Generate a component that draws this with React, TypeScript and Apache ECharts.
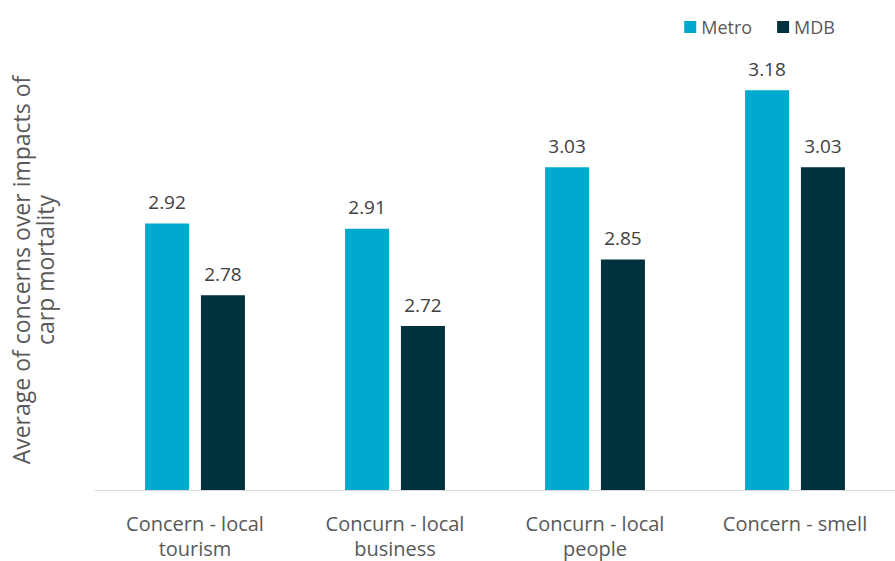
import React, { useEffect, useRef } from "react";
import * as echarts from "echarts";

const categories = [
  "Concern - local\ntourism",
  "Concurn - local\nbusiness",
  "Concurn - local\npeople",
  "Concern - smell",
];
const metroValues = [2.92, 2.91, 3.03, 3.18];
const mdbValues = [2.78, 2.72, 2.85, 3.03];
const seriesNames = ["Metro", "MDB"];
const yTitle = "Average of concerns over impacts of\ncarp mortality";

export default function App() {
  const ref = useRef<HTMLDivElement>(null);
  useEffect(() => {
    document.body.style.margin = "0";
    if (!ref.current) return;
    const chart = echarts.init(ref.current, undefined, { renderer: "svg" });
    const font = "'Open Sans', 'Noto Sans', sans-serif";
    const labelCfg = {
      show: true,
      position: "top",
      distance: 12,
      fontSize: 19,
      color: "#404040",
      fontFamily: font,
      formatter: (p: any) => p.value.toFixed(2),
    };
    chart.setOption({
      animation: false,
      textStyle: { fontFamily: font },
      legend: {
        data: seriesNames,
        right: 55,
        top: 13,
        itemWidth: 12,
        itemHeight: 12,
        itemGap: 25,
        icon: "rect",
        textStyle: { fontSize: 18, color: "#595959", fontFamily: font },
      },
      grid: { left: 95, right: 0, top: 80, bottom: 71, outerBoundsMode: "none", containLabel: false },
      graphic: [
        {
          type: "text",
          x: 33,
          y: 270,
          rotation: Math.PI / 2,
          style: {
            text: yTitle,
            align: "center",
            verticalAlign: "middle",
            fontSize: 23,
            lineHeight: 24,
            fill: "#595959",
            fontFamily: font,
          },
        },
      ],
      xAxis: {
        type: "category",
        data: categories,
        axisLine: { lineStyle: { color: "#d9d9d9", width: 1 } },
        axisTick: { show: false },
        axisLabel: {
          fontSize: 20,
          color: "#595959",
          lineHeight: 25,
          margin: 21,
          fontFamily: font,
        },
      },
      yAxis: {
        type: "value",
        min: 2.4,
        max: 3.2,
        axisLine: { show: false },
        axisTick: { show: false },
        axisLabel: { show: false },
        splitLine: { show: false },
      },
      series: [
        {
          name: seriesNames[0],
          type: "bar",
          data: metroValues,
          barWidth: 44,
          barGap: "27%",
          itemStyle: { color: "#00A9CE" },
          label: labelCfg,
        },
        {
          name: seriesNames[1],
          type: "bar",
          data: mdbValues,
          barWidth: 44,
          itemStyle: { color: "#00313D" },
          label: labelCfg,
        },
      ],
    });
    return () => chart.dispose();
  }, []);
  return <div ref={ref} style={{ width: 895, height: 561 }} />;
}
